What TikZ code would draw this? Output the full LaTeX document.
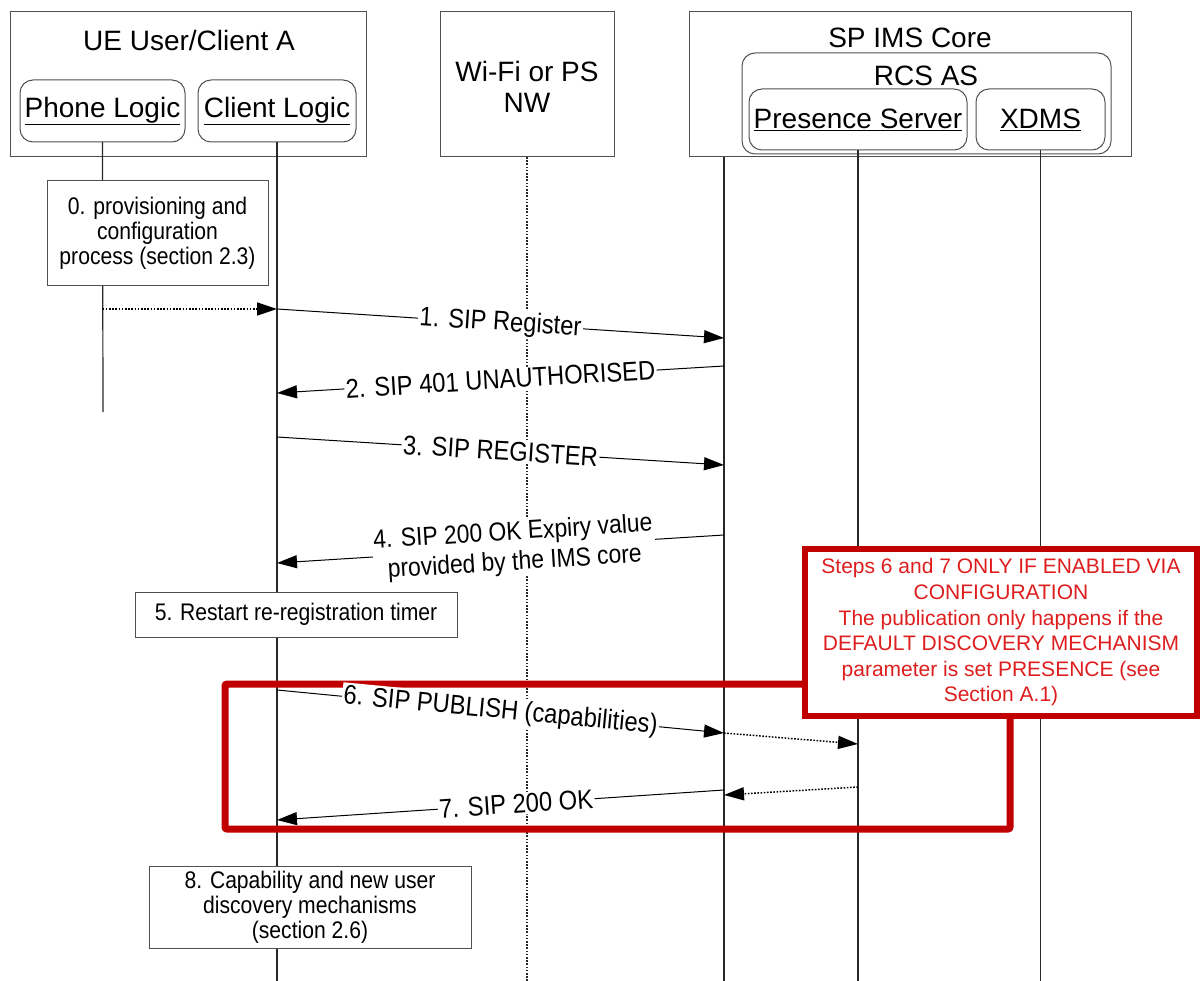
\documentclass[tikz,border=0pt]{standalone}
\usepackage{fontspec}
\setmainfont{Liberation Sans}
\newfontfamily\narrowfont{Liberation Sans}[FakeStretch=0.88]
\usetikzlibrary{arrows.meta}
\definecolor{alertred}{RGB}{192,0,0}
\definecolor{notetext}{RGB}{222,30,30}
\definecolor{framegray}{RGB}{80,80,80}
\definecolor{linegray}{RGB}{40,40,40}

\begin{document}
\begin{tikzpicture}[x=1pt,y=-1pt,
  every node/.style={inner sep=0pt, outer sep=0pt},
  hdrfont/.style={font=\fontsize{28}{31}\selectfont, align=center},
  entity/.style={draw=framegray, line width=1pt, fill=white, anchor=north west},
  subentity/.style={draw=framegray, line width=1pt, rounded corners=13pt, anchor=north west},
  lifeline/.style={draw=linegray, line width=1.2pt},
  netline/.style={draw=linegray, line width=1.3pt, dash pattern=on 1.6pt off 1.6pt},
  actbox/.style={draw=framegray, line width=1pt, fill=white, anchor=north west},
  acttext/.style={align=center, font=\narrowfont\fontsize{24}{25}\selectfont},
  msg/.style={draw=black, line width=1pt, -{Triangle[length=20pt,width=13pt]}},
  dotmsg/.style={msg, line width=1.5pt, dash pattern=on 1.6pt off 1.6pt},
  msglabel/.style={sloped, fill=white, inner sep=1.5pt, align=center, font=\narrowfont\fontsize{27}{28}\selectfont},
  notebox/.style={draw=alertred, line width=6pt, fill=white, anchor=north west},
  notefont/.style={text=notetext, align=center, font=\fontsize{21}{25.6}\selectfont},
]
\useasboundingbox (0,0) rectangle (1201,981);

% ---- entity headers ----
\node[entity, minimum width=356pt, minimum height=145pt] (ue) at (10,12) {};
\node[hdrfont] (uelbl) at (189,40) {UE User/Client A};
\node[subentity, minimum width=165pt, minimum height=62pt] (phone) at (20,80) {};
\node[hdrfont] (phonelbl) at (phone.center) {\underline{Phone Logic}};
\node[subentity, minimum width=158pt, minimum height=62pt] (client) at (198,80) {};
\node[hdrfont] (clientlbl) at (client.center) {\underline{Client Logic}};

\node[entity, minimum width=174pt, minimum height=145pt] (wifi) at (440,12) {};
\node[hdrfont] (wifilbl) at (527,87) {Wi-Fi or PS\\NW};

\node[entity, minimum width=442pt, minimum height=145pt] (ims) at (689,12) {};
\node[hdrfont] (imslbl) at (910,38) {SP IMS Core};
\node[subentity, minimum width=369pt, minimum height=101pt] (rcs) at (742,53) {};
\node[hdrfont] (rcslbl) at (926,76) {RCS AS};
\node[subentity, minimum width=218pt, minimum height=61pt] (pres) at (749,89) {};
\node[hdrfont] (preslbl) at (pres.center) {\underline{Presence Server}};
\node[subentity, minimum width=129pt, minimum height=61pt] (xdms) at (976,89) {};
\node[hdrfont] (xdmslbl) at (xdms.center) {\underline{XDMS}};

% ---- lifelines ----
\coordinate (phoneEnd) at (103,412);
\coordinate (imsline) at (724,157);
\draw[lifeline] (phone.south) -- (phoneEnd);
\draw[lifeline] (client.south) -- (client |- 0,981);
\draw[netline] (wifi.south) -- (wifi |- 0,981);
\draw[lifeline] (imsline) -- (imsline |- 0,981);
\draw[lifeline] (pres.south) -- (pres |- 0,981);
\draw[lifeline] (xdms.south) -- (xdms |- 0,981);

% ---- local activities ----
\node[actbox, minimum width=221pt, minimum height=105pt] (act0) at (47,181) {};
\node[acttext] (act0lbl) at (act0.center) {0. provisioning and\\configuration\\process (section 2.3)};
\node[actbox, minimum width=322pt, minimum height=45pt] (act5) at (135,592) {};
\node[acttext] (act5lbl) at (act5.center) {5. Restart re-registration timer};
\node[actbox, minimum width=322pt, minimum height=82pt] (act8) at (149,866) {};
\node[acttext] (act8lbl) at (act8.center) {8. Capability and new user\\discovery mechanisms\\(section 2.6)};

% ---- registration messages ----
\draw[dotmsg] (phone |- 0,309) -- (client |- 0,309);
\draw[msg] (client |- 0,309) -- node[msglabel] {1. SIP Register} (imsline |- 0,338);
\draw[msg] (imsline |- 0,366) -- node[msglabel] {2. SIP 401 UNAUTHORISED} (client |- 0,393);
\draw[msg] (client |- 0,437) -- node[msglabel] {3. SIP REGISTER} (imsline |- 0,465);
\draw[msg] (imsline |- 0,535) -- node[msglabel, pos=0.47, font=\narrowfont\fontsize{26}{30}\selectfont] {4. SIP 200 OK Expiry value\\provided by the IMS core} (client |- 0,563);

% ---- optional publication block ----
\draw[draw=alertred, line width=7pt, rounded corners=2pt] (225,684) rectangle (1010,829);
\draw[msg] (client |- 0,690) -- node[msglabel] {6. SIP PUBLISH (capabilities)} (imsline |- 0,733);
\draw[dotmsg] (imsline |- 0,733) -- (pres |- 0,744);
\draw[dotmsg] (pres |- 0,787) -- (imsline |- 0,795);
\draw[msg] (imsline |- 0,790) -- node[msglabel, pos=0.465] {7. SIP 200 OK} (client |- 0,820);

\node[notebox, minimum width=392pt, minimum height=167pt] (note) at (805,549) {};
\node[notefont] (notelbl) at (note.center) {Steps 6 and 7 ONLY IF ENABLED VIA\\CONFIGURATION\\The publication only happens if the\\DEFAULT DISCOVERY MECHANISM\\parameter is set PRESENCE (see\\Section A.1)};
\end{tikzpicture}
\end{document}
